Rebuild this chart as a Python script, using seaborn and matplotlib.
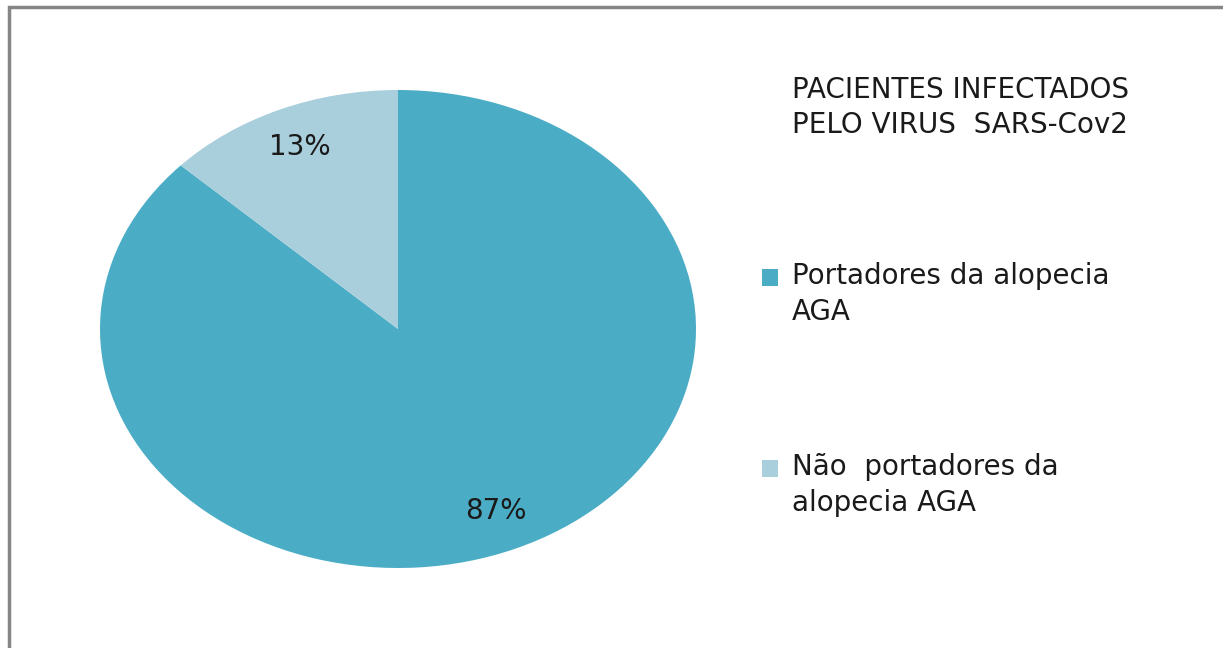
import matplotlib
matplotlib.use("Agg")
import matplotlib.pyplot as plt
from matplotlib.patches import Rectangle, Patch
from matplotlib.legend_handler import HandlerPatch
import seaborn as sns

categories = ["Portadores da alopecia\nAGA", "Não  portadores da\nalopecia AGA"]
values = [87, 13]
colors = ["#4BACC6", "#A9CEDC"]
legend_title = "PACIENTES INFECTADOS\nPELO VIRUS  SARS-Cov2"

sns.set_theme(style="white")
plt.rcParams['font.family'] = ['DejaVu Sans']

W, H = 1223, 648
FS = 20
TXT = "#1a1a1a"
fig = plt.figure(figsize=(W / 100, H / 100), dpi=100)
fig.patch.set_facecolor("white")

# chart frame
fig.patches.append(Rectangle((9 / W, -0.1), 1.2, (H - 7) / H + 0.1, transform=fig.transFigure,
                             fill=False, edgecolor="#868686", linewidth=2.5))

ax = fig.add_axes([100 / W, 80 / H, 596 / W, 478 / H])
wedges, texts, autotexts = ax.pie(values, colors=colors, startangle=90, counterclock=False,
                                  autopct="%1.0f%%", pctdistance=0.83,
                                  wedgeprops=dict(linewidth=0),
                                  textprops=dict(fontsize=FS, color=TXT))
ax.set_aspect("auto")
ax.set_xlim(-1, 1)
ax.set_ylim(-1, 1)
ax.axis("off")

# legend title
fig.text(792 / W, 1 - 76 / H, legend_title, ha="left", va="top", fontsize=FS,
         color=TXT, linespacing=1.3)


def top_square(legend, orig_handle, xdescent, ydescent, width, height, fontsize):
    off = 0.64 * fontsize
    return Rectangle((-xdescent, -ydescent + off), width, height)


handles = [Patch(facecolor=c, edgecolor="none") for c in colors]
leg = fig.legend(handles, categories, loc="upper left", bbox_to_anchor=(762 / W, 1 - 262 / H),
                 frameon=False, fontsize=FS, borderpad=0, borderaxespad=0,
                 handlelength=0.58, handleheight=0.58, handletextpad=0.5,
                 labelspacing=4.6,
                 handler_map={Patch: HandlerPatch(patch_func=top_square)})
for t in leg.get_texts():
    t.set_color(TXT)
    t.set_linespacing(1.35)

fig.savefig("out.png", dpi=100, facecolor="white")
